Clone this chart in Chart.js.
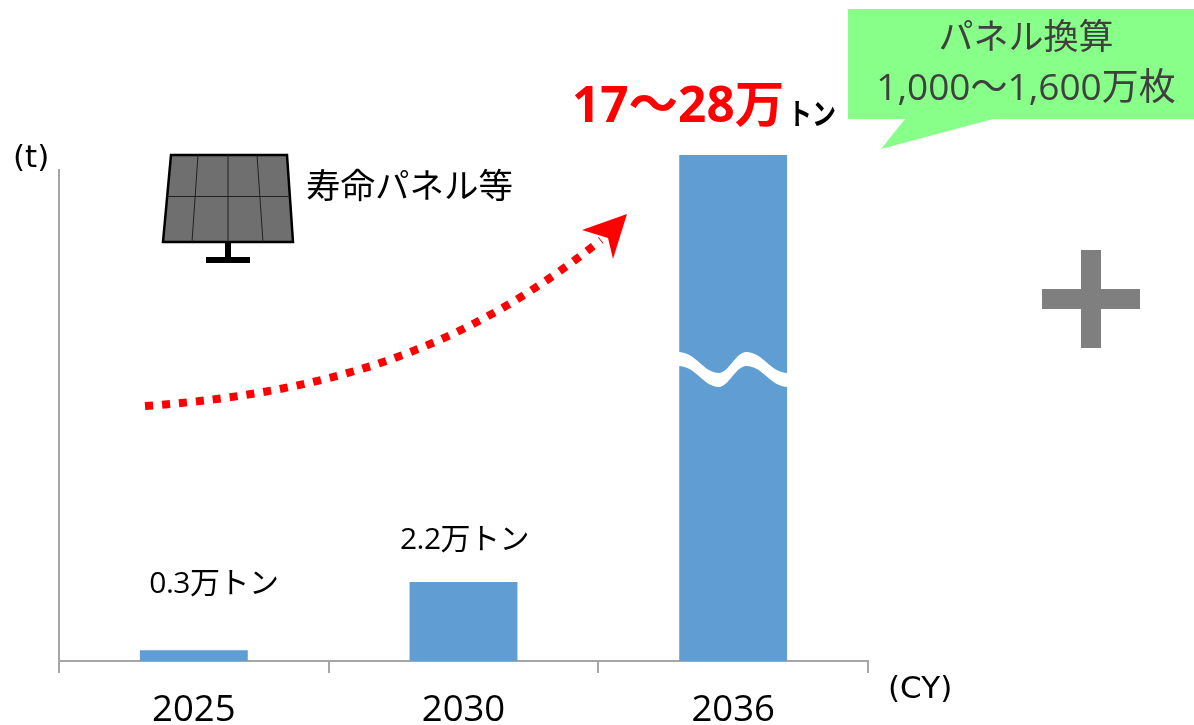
<!DOCTYPE html>
<html lang="ja"><head><meta charset="utf-8">
<script src="https://cdn.jsdelivr.net/npm/chart.js@4"></script>
<style>html,body{margin:0;padding:0;background:#fff}#w{position:relative;width:1194px;height:725px}</style>
</head><body><div id="w"><canvas id="c" width="1194" height="725"></canvas></div>
<script>
const categories = ["2025", "2030", "2036"];
// Drawn heights in tonnes; the 2036 bar is cut by the wave break, so its height is nominal.
const wasteTonnes = [3000, 22000, 141000];
const valueLabels = ["0.3万トン", "2.2万トン", ""];
const rangeLabel = "17～28万";
const rangeUnit = "トン";
const calloutLines = ["パネル換算", "1,000～1,600万枚"];
const panelLabel = "寿命パネル等";
const yUnit = "(t)";
const xUnit = "(CY)";
const FONT = '"Open Sans","Noto Sans CJK JP",sans-serif';
const UNIT = '"DejaVu Sans",sans-serif';
const JP = '"Noto Sans CJK JP",sans-serif';

const overlay = {
  id: 'overlay',
  afterDatasetsDraw(chart) {
    const c = chart.ctx, bars = chart.getDatasetMeta(0).data;
    c.save();
    // value labels
    c.fillStyle = '#000'; c.textAlign = 'center'; c.textBaseline = 'alphabetic';
    c.font = '30px ' + FONT; c.letterSpacing = '-0.5px';
    valueLabels.forEach((t, i) => { if (t) c.fillText(t, bars[i].x + (i === 0 ? 20 : 1), i === 0 ? 593 : 549); });
    c.letterSpacing = '0px';
    // break wave on the third bar (constant vertical thickness)
    const b = bars[2], L = b.x - 55, R = b.x + 55;
    const wave = (o, fwd) => {
      if (fwd) {
        c.lineTo(L, 359 + o);
        c.bezierCurveTo(L + 18, 359 + o, L + 25, 380 + o, L + 41, 380 + o);
        c.bezierCurveTo(L + 50, 380 + o, L + 58, 359 + o, L + 68, 359 + o);
        c.bezierCurveTo(L + 85, 359 + o, R - 18, 380 + o, R, 380 + o);
      } else {
        c.lineTo(R, 380 + o);
        c.bezierCurveTo(R - 18, 380 + o, L + 85, 359 + o, L + 68, 359 + o);
        c.bezierCurveTo(L + 58, 359 + o, L + 50, 380 + o, L + 41, 380 + o);
        c.bezierCurveTo(L + 25, 380 + o, L + 18, 359 + o, L, 359 + o);
      }
    };
    c.fillStyle = '#fff';
    c.beginPath(); c.moveTo(L, 352); wave(-7, true); wave(7, false); c.closePath(); c.fill();
    // axis unit labels
    c.textAlign = 'left'; c.font = '31px ' + UNIT; c.fillStyle = '#000';
    c.fillText(yUnit, 13, 167);
    c.fillText(xUnit, 888, 698);
    // solar panel
    c.fillStyle = '#6f6f6f'; c.strokeStyle = '#000'; c.lineWidth = 2.5; c.lineJoin = 'miter';
    c.beginPath(); c.moveTo(171, 155); c.lineTo(287, 155); c.lineTo(293, 242); c.lineTo(163, 242); c.closePath(); c.fill(); c.stroke();
    c.lineWidth = 1; c.strokeStyle = '#222';
    [[198, 192], [228, 228], [257, 263]].forEach(([a, d]) => { c.beginPath(); c.moveTo(a, 155); c.lineTo(d, 242); c.stroke(); });
    c.beginPath(); c.moveTo(167, 196.5); c.lineTo(290, 196.5); c.stroke();
    c.fillStyle = '#000'; c.fillRect(225, 243, 6, 15); c.fillRect(206, 257, 44, 6);
    c.fillStyle = '#000'; c.font = '34.5px ' + JP; c.fillText(panelLabel, 306, 198);
    // red dotted arrow
    c.strokeStyle = '#ff0000'; c.lineWidth = 8; c.setLineDash([8, 9]);
    c.beginPath(); c.moveTo(145, 406); c.bezierCurveTo(340, 392, 470, 345, 601, 240); c.stroke();
    c.setLineDash([]); c.fillStyle = '#ff0000';
    c.beginPath(); c.moveTo(627, 214); c.lineTo(613, 259); c.lineTo(608, 238); c.lineTo(582, 230); c.closePath(); c.fill();
    // headline
    c.font = 'bold 49.5px ' + FONT; c.fillStyle = '#ff0000'; c.fillText(rangeLabel, 572, 122);
    c.save();
    c.translate(788, 124); c.scale(0.8, 1);
    c.font = 'bold 30px ' + JP; c.fillStyle = '#000'; c.fillText(rangeUnit, 0, 0);
    c.restore();
    // callout
    c.fillStyle = '#88ff88';
    c.beginPath(); c.moveTo(848, 9); c.lineTo(1194, 9); c.lineTo(1194, 119); c.lineTo(993, 119); c.lineTo(881, 149); c.lineTo(905, 119); c.lineTo(848, 119); c.closePath(); c.fill();
    c.fillStyle = '#404040'; c.textAlign = 'center';
    c.font = '35px ' + FONT; c.fillText(calloutLines[0], 1026, 49);
    c.font = '37px ' + FONT; c.fillText(calloutLines[1], 1026, 100);
    // plus sign
    c.fillStyle = '#7f7f7f'; c.fillRect(1081, 250, 20, 98); c.fillRect(1042, 289, 98, 20);
    c.restore();
  }
};

new Chart(document.getElementById('c'), {
  type: 'bar',
  data: { labels: categories, datasets: [{ data: wasteTonnes, backgroundColor: '#5f9dd3', categoryPercentage: 0.4, barPercentage: 1, clip: false }] },
  plugins: [overlay],
  options: {
    responsive: false, animation: false,
    layout: { padding: { left: 59, right: 326, top: 170, bottom: 0 } },
    plugins: { legend: { display: false }, tooltip: { enabled: false }, title: { display: false } },
    scales: {
      x: {
        afterFit(s) { s.height = 64; },
        offset: true,
        grid: { offset: true, drawOnChartArea: false, drawTicks: true, tickLength: 12, color: '#a6a6a6', lineWidth: 2 },
        border: { color: '#a6a6a6', width: 2 },
        ticks: { color: '#000', font: { size: 36.5, family: FONT }, padding: 16, maxRotation: 0 }
      },
      y: {
        min: 0, max: 136800,
        afterFit(s) { s.width = 0; },
        grid: { display: false, drawTicks: false },
        border: { color: '#a6a6a6', width: 2 },
        ticks: { display: false }
      }
    }
  }
});
</script></body></html>
